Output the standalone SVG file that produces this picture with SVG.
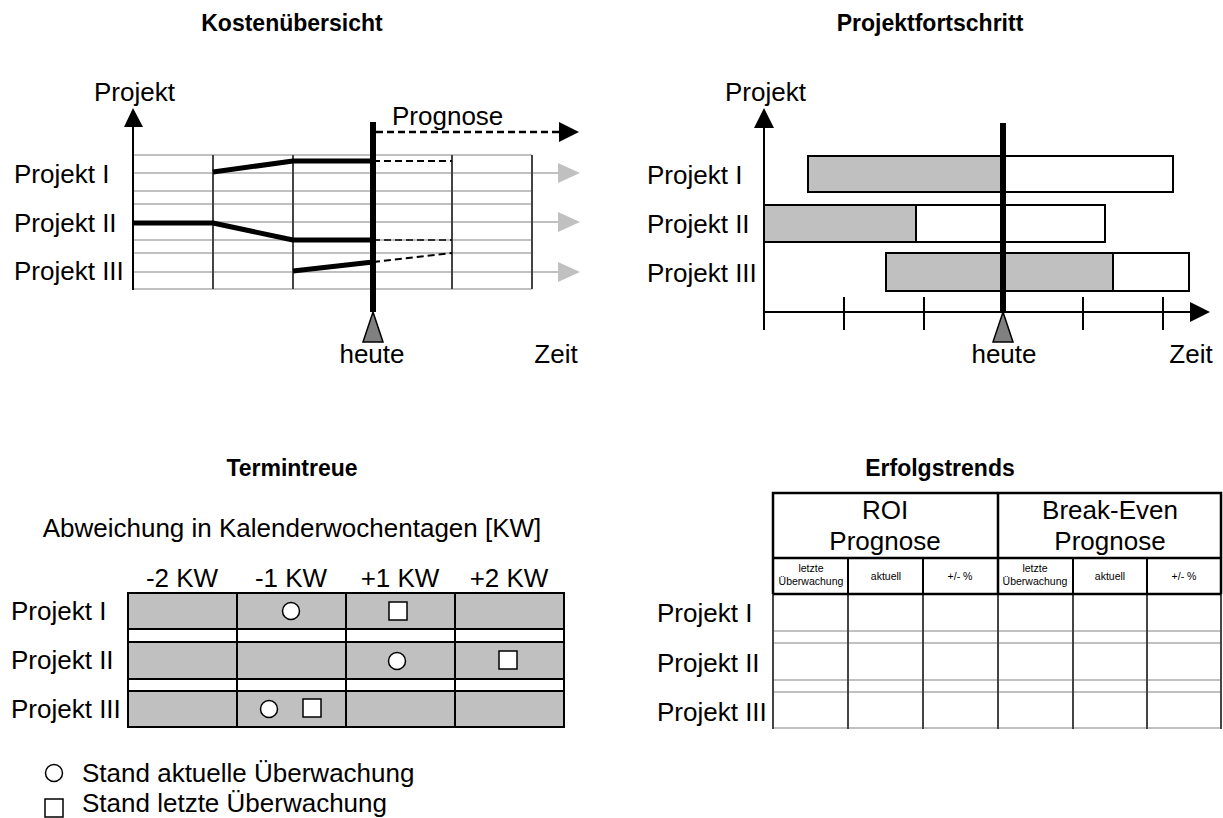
<svg xmlns="http://www.w3.org/2000/svg" width="1223" height="818" viewBox="0 0 1223 818">
  <style>
    text { font-family: "Liberation Sans", Arial, sans-serif; fill: #000; }
    .title { font-size: 23px; font-weight: bold; text-anchor: middle; }
    .lbl { font-size: 26px; }
    .mid { text-anchor: middle; }
    .small { font-size: 10.5px; text-anchor: middle; }
    .grid { stroke: #c0c0c0; stroke-width: 2; fill: none; }
    .vgrid { stroke: #444; stroke-width: 2; fill: none; }
    .axis { stroke: #000; stroke-width: 2; fill: none; }
    .today { stroke: #000; stroke-width: 6; }
    .marker { fill: #808080; stroke: #000; stroke-width: 1.5; }
    .cost { stroke: #000; stroke-width: 5; fill: none; stroke-linejoin: round; }
    .dash { stroke: #000; stroke-width: 2; stroke-dasharray: 7 4; fill: none; }
    .bar { stroke: #000; stroke-width: 2; }
    .cell { fill: #c0c0c0; stroke: #000; stroke-width: 2; }
    .sym { fill: #fff; stroke: #000; stroke-width: 1.5; }
  </style>

  <!-- Kostenübersicht -->
  <g id="kosten">
    <text class="title" x="292" y="31">Kostenübersicht</text>
    <text class="lbl" x="94" y="101">Projekt</text>
    <text class="lbl" x="392" y="125">Prognose</text>
    <text class="lbl" x="14" y="183">Projekt I</text>
    <text class="lbl" x="14" y="232">Projekt II</text>
    <text class="lbl" x="14" y="280">Projekt III</text>
    <text class="lbl mid" x="372" y="363">heute</text>
    <text class="lbl mid" x="556" y="363">Zeit</text>
  </g>
  <g id="kosten-grid">
    <path class="grid" d="M133 155H532M133 191H532M133 204H532M133 240H532M133 253H532M133 289H532"/>
    <path class="grid" d="M133 173H560M133 222H560M133 272H560"/>
    <path fill="#c0c0c0" d="M558 163L580 173L558 183ZM558 212L580 222L558 232ZM558 262L580 272L558 282Z"/>
    <path class="vgrid" d="M213 155V289M293 155V289M452 155V289M532 155V289"/>
  </g>
  <g id="kosten-connectors">
    <path class="axis" d="M133 125V290"/>
    <path d="M124 127L133 108L143 127Z" fill="#000"/>
    <path class="cost" d="M213 172L293 161H373"/>
    <path class="cost" d="M133 223H213L293 240H373"/>
    <path class="cost" d="M293 271L373 262"/>
    <path class="dash" d="M373 161H452"/>
    <path class="dash" style="stroke-width:1.5" d="M373 240H452"/>
    <path class="dash" d="M373 262L452 253"/>
    <path class="dash" style="stroke-width:2.5" d="M376 132H560"/>
    <path d="M559 122L579 132L559 142Z" fill="#000"/>
    <path class="today" d="M373 122V312"/>
    <path class="marker" d="M373 312L383 342H363Z"/>
  </g>

  <!-- Projektfortschritt -->
  <g id="fortschritt">
    <text class="title" x="930" y="31">Projektfortschritt</text>
    <text class="lbl" x="725" y="101">Projekt</text>
    <text class="lbl" x="647" y="184">Projekt I</text>
    <text class="lbl" x="647" y="233">Projekt II</text>
    <text class="lbl" x="647" y="282">Projekt III</text>
    <text class="lbl mid" x="1004" y="363">heute</text>
    <text class="lbl mid" x="1191" y="363">Zeit</text>
  </g>
  <g id="fortschritt-bars">
    <rect class="bar" x="808" y="156" width="365" height="36" fill="#fff"/>
    <rect class="bar" x="808" y="156" width="195" height="36" fill="#c0c0c0"/>
    <rect class="bar" x="764" y="205" width="341" height="37" fill="#fff"/>
    <rect class="bar" x="764" y="205" width="152" height="37" fill="#c0c0c0"/>
    <rect class="bar" x="886" y="253" width="303" height="38" fill="#fff"/>
    <rect class="bar" x="886" y="253" width="227" height="38" fill="#c0c0c0"/>
  </g>
  <g id="fortschritt-connectors">
    <path class="axis" d="M764 126V330"/>
    <path d="M754 128L764 108L774 128Z" fill="#000"/>
    <path class="axis" d="M764 312H1192"/>
    <path d="M1190 302L1210 312L1190 322Z" fill="#000"/>
    <path class="axis" d="M844 297V330M924 297V330M1083 297V330M1163 297V330"/>
    <path class="today" d="M1003 123V312"/>
    <path class="marker" d="M1003 312L1013 342H993Z"/>
  </g>

  <!-- Termintreue -->
  <g id="termintreue">
    <text class="title" x="292" y="476">Termintreue</text>
    <text class="lbl mid" x="292" y="537">Abweichung in Kalenderwochentagen [KW]</text>
    <text class="lbl mid" x="182" y="587">-2 KW</text>
    <text class="lbl mid" x="291" y="587">-1 KW</text>
    <text class="lbl mid" x="400" y="587">+1 KW</text>
    <text class="lbl mid" x="509" y="587">+2 KW</text>
    <text class="lbl" x="11" y="620">Projekt I</text>
    <text class="lbl" x="11" y="669">Projekt II</text>
    <text class="lbl" x="11" y="718">Projekt III</text>
  </g>
  <g id="termintreue-table">
    <rect x="128" y="593" width="436" height="134" fill="#fff" stroke="#000" stroke-width="2"/>
    <rect class="cell" x="128" y="593" width="436" height="36"/>
    <rect class="cell" x="128" y="642" width="436" height="37"/>
    <rect class="cell" x="128" y="691" width="436" height="36"/>
    <path class="axis" d="M237 593V727M346 593V727M455 593V727"/>
    <circle class="sym" cx="291" cy="611" r="8.5"/>
    <rect class="sym" x="389" y="602" width="18" height="18"/>
    <circle class="sym" cx="397" cy="661" r="8.5"/>
    <rect class="sym" x="499" y="651" width="18" height="18"/>
    <circle class="sym" cx="269" cy="709" r="8.5"/>
    <rect class="sym" x="303" y="699" width="18" height="18"/>
  </g>
  <g id="legende">
    <circle class="sym" cx="54" cy="773" r="8.5"/>
    <text class="lbl" x="82" y="782">Stand aktuelle Überwachung</text>
    <rect class="sym" x="45" y="799" width="18" height="18"/>
    <text class="lbl" x="82" y="812">Stand letzte Überwachung</text>
  </g>

  <!-- Erfolgstrends -->
  <g id="erfolgstrends">
    <text class="title" x="940" y="476">Erfolgstrends</text>
    <text class="lbl mid" x="885" y="519">ROI</text>
    <text class="lbl mid" x="885" y="550">Prognose</text>
    <text class="lbl mid" x="1110" y="519">Break-Even</text>
    <text class="lbl mid" x="1110" y="550">Prognose</text>
    <text class="small" x="811" y="572">letzte</text>
    <text class="small" x="811" y="585">Überwachung</text>
    <text class="small" x="886" y="580">aktuell</text>
    <text class="small" x="960" y="580">+/- %</text>
    <text class="small" x="1035" y="572">letzte</text>
    <text class="small" x="1035" y="585">Überwachung</text>
    <text class="small" x="1110" y="580">aktuell</text>
    <text class="small" x="1184" y="580">+/- %</text>
    <text class="lbl" x="657" y="622">Projekt I</text>
    <text class="lbl" x="657" y="672">Projekt II</text>
    <text class="lbl" x="657" y="721">Projekt III</text>
  </g>
  <g id="erfolgstrends-table">
    <path class="grid" d="M773 631H1222M773 643H1222M773 680H1222M773 692H1222M773 728H1222"/>
    <path class="vgrid" d="M773 594V729M848 594V729M923 594V729M998 594V729M1073 594V729M1147 594V729M1221 594V729"/>
    <path fill="none" stroke="#000" stroke-width="2.5" d="M773 594V493H1221V594M773 558H1221M773 594H1221M998 493V594"/>
    <path fill="none" stroke="#000" stroke-width="2" d="M848 558V594M923 558V594M1073 558V594M1147 558V594"/>
  </g>
</svg>
